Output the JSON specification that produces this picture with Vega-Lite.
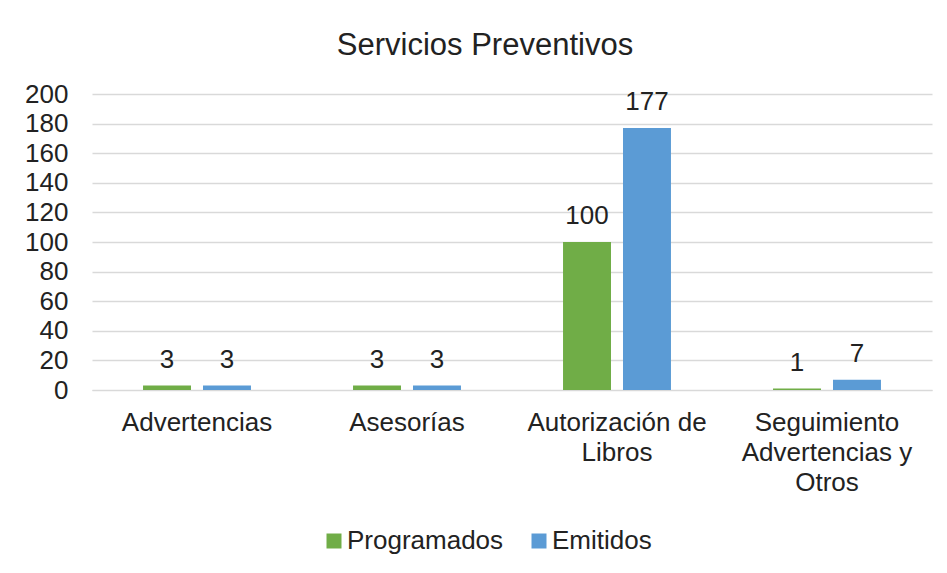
{
  "$schema": "https://vega.github.io/schema/vega-lite/v6.json",
  "width": 840,
  "height": 296,
  "autosize": {"type": "none"},
  "padding": {"left": 92, "top": 94, "right": 15, "bottom": 183},
  "background": "white",
  "config": {"font": "Liberation Sans", "view": {"stroke": null}},
  "title": {"text": "Servicios Preventivos", "anchor": "middle", "frame": "group", "dx": -27, "offset": 19, "fontSize": 31, "fontWeight": "normal", "color": "#222222"},
  "data": {"values": [
    {"servicio": "Advertencias", "serie": "Programados", "valor": 3},
    {"servicio": "Advertencias", "serie": "Emitidos", "valor": 3},
    {"servicio": "Asesorías", "serie": "Programados", "valor": 3},
    {"servicio": "Asesorías", "serie": "Emitidos", "valor": 3},
    {"servicio": "Autorización de Libros", "serie": "Programados", "valor": 100},
    {"servicio": "Autorización de Libros", "serie": "Emitidos", "valor": 177},
    {"servicio": "Seguimiento Advertencias y Otros", "serie": "Programados", "valor": 1},
    {"servicio": "Seguimiento Advertencias y Otros", "serie": "Emitidos", "valor": 7}
  ]},
  "encoding": {
    "x": {"field": "servicio", "type": "nominal", "sort": ["Advertencias", "Asesorías", "Autorización de Libros", "Seguimiento Advertencias y Otros"],
      "scale": {"paddingInner": 0.486, "paddingOuter": 0.243},
      "axis": {"title": null, "labelAngle": 0, "labelFontSize": 26, "labelColor": "#222222", "labelLineHeight": 30, "labelPadding": 19, "labelLimit": 0, "ticks": false, "domainColor": "#d9d9d9", "grid": false,
        "labelExpr": "datum.value == 'Autorización de Libros' ? ['Autorización de', 'Libros'] : datum.value == 'Seguimiento Advertencias y Otros' ? ['Seguimiento', 'Advertencias y', 'Otros'] : datum.value"}},
    "xOffset": {"field": "serie", "type": "nominal", "sort": ["Programados", "Emitidos"], "scale": {"paddingInner": 0.2, "paddingOuter": 0}},
    "y": {"field": "valor", "type": "quantitative", "scale": {"domain": [0, 200], "nice": false},
      "axis": {"title": null, "values": [0, 20, 40, 60, 80, 100, 120, 140, 160, 180, 200], "labelFontSize": 26, "labelColor": "#222222", "labelPadding": 24, "ticks": false, "domain": false, "gridColor": "#d9d9d9", "gridWidth": 1.3}}
  },
  "layer": [
    {"mark": {"type": "bar"},
     "encoding": {"color": {"field": "serie", "type": "nominal", "sort": ["Programados", "Emitidos"],
       "scale": {"domain": ["Programados", "Emitidos"], "range": ["#70AD47", "#5B9BD5"]},
       "legend": {"title": null, "orient": "none", "direction": "horizontal", "legendX": 229, "legendY": 434, "padding": 0, "symbolType": "square", "symbolSize": 225, "symbolStrokeWidth": 0, "labelFontSize": 26, "labelColor": "#222222", "labelOffset": 0, "columnPadding": 22}}}},
    {"mark": {"type": "text", "baseline": "alphabetic", "dy": -18, "fontSize": 26, "color": "#222222"},
     "encoding": {"text": {"field": "valor", "type": "quantitative"}}}
  ]
}
